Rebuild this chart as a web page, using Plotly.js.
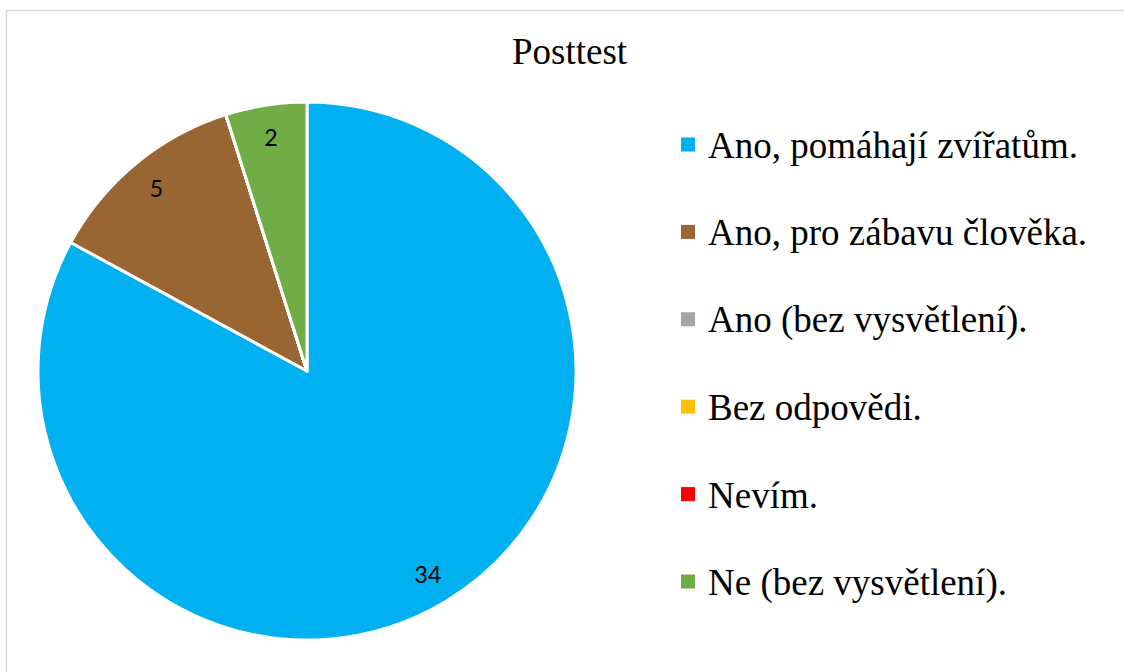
<!DOCTYPE html>
<html>
<head>
<meta charset="utf-8">
<script src="https://cdn.plot.ly/plotly-3.0.1.min.js"></script>
<style>html,body{margin:0;padding:0;background:#fff;}#chart{width:1124px;height:672px;}</style>
</head>
<body>
<div id="chart"></div>
<script>
const chartTitle = "Posttest";
const categories = [
  "Ano, pomáhají zvířatům.",
  "Ano, pro zábavu člověka.",
  "Ano (bez vysvětlení).",
  "Bez odpovědi.",
  "Nevím.",
  "Ne (bez vysvětlení)."
];
const values = [34, 5, 0, 0, 0, 2];
const colors = ["#00B0F0", "#996633", "#A5A5A5", "#FFC000", "#FF0000", "#70AD47"];

const W = 1124, H = 672;
const px = x => x / W;
const py = y => 1 - y / H;

const pieDomain = {x: [px(38), px(576)], y: [py(640), py(102)]};

const mainPie = {
  type: "pie",
  labels: categories,
  values: values,
  sort: false,
  direction: "clockwise",
  rotation: 0,
  marker: {colors: colors, line: {color: "#ffffff", width: 3}},
  textinfo: "none",
  hoverinfo: "label+value",
  showlegend: false,
  domain: pieDomain
};

const labelPie = {
  type: "pie",
  labels: categories,
  values: values,
  sort: false,
  direction: "clockwise",
  rotation: 0,
  hole: 0.76,
  marker: {colors: categories.map(() => "rgba(0,0,0,0)"), line: {width: 0}},
  textinfo: "value",
  textposition: "inside",
  insidetextorientation: "horizontal",
  textfont: {family: "Lato, 'Open Sans', sans-serif", size: 23, color: "#000000"},
  hoverinfo: "skip",
  showlegend: false,
  domain: pieDomain
};

const annotations = [];
const shapes = [];
const legendTop = 144.5, legendStep = 87.4;
categories.forEach((c, i) => {
  const yc = legendTop + i * legendStep;
  shapes.push({
    type: "rect", xref: "paper", yref: "paper",
    x0: px(681), x1: px(695), y0: py(yc + 7), y1: py(yc - 7),
    fillcolor: colors[i], line: {width: 0}
  });
  annotations.push({
    xref: "paper", yref: "paper", x: px(706), y: py(yc + 1),
    xanchor: "left", yanchor: "middle", showarrow: false,
    text: c,
    font: {family: "'Liberation Serif', 'Times New Roman', serif", size: 37, color: "#000000"}
  });
});

annotations.push({
  xref: "paper", yref: "paper", x: px(570), y: py(52),
  xanchor: "center", yanchor: "middle", showarrow: false,
  text: chartTitle,
  font: {family: "'Liberation Serif', 'Times New Roman', serif", size: 37, color: "#000000"}
});

shapes.push({
  type: "rect", xref: "paper", yref: "paper",
  x0: px(6.5), x1: px(1130), y0: py(680), y1: py(10.5),
  line: {color: "#d9d9d9", width: 1.5}, fillcolor: "rgba(0,0,0,0)"
});

const layout = {
  width: W, height: H,
  margin: {l: 0, r: 0, t: 0, b: 0, pad: 0},
  paper_bgcolor: "#ffffff",
  plot_bgcolor: "#ffffff",
  showlegend: false,
  annotations: annotations,
  shapes: shapes
};

Plotly.newPlot("chart", [mainPie, labelPie], layout, {displayModeBar: false, staticPlot: true});
</script>
</body>
</html>
